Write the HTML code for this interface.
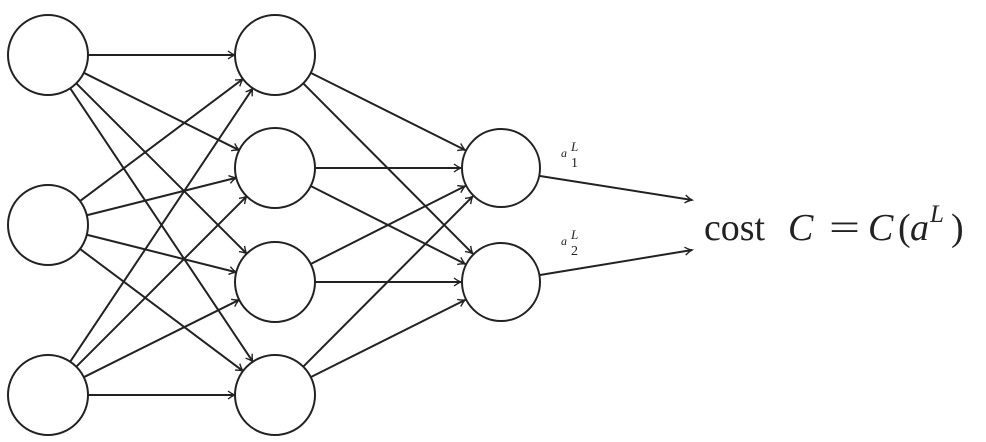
<!DOCTYPE html>
<html><head><meta charset="utf-8"><style>html,body{margin:0;padding:0;background:#fff;width:986px;height:442px;overflow:hidden}</style></head>
<body>
<svg width="986" height="442" viewBox="0 0 986 442" xmlns="http://www.w3.org/2000/svg" id="s">
<defs><marker id="a" markerWidth="10" markerHeight="10" refX="8" refY="5" orient="auto" markerUnits="userSpaceOnUse"><path d="M1,1 Q5,4 8,5 Q5,6 1,9" fill="none" stroke="#222" stroke-width="1.4"/></marker></defs>
<g id="g" stroke="#222" stroke-width="2" fill="none"></g>
<line x1="540" y1="176" x2="692" y2="200" stroke="#222" stroke-width="2" marker-end="url(#a)"/>
<line x1="540" y1="275" x2="692" y2="250" stroke="#222" stroke-width="2" marker-end="url(#a)"/>
<g font-family="Liberation Serif, serif" fill="#222">
<text x="561" y="157" font-size="12" font-style="italic">a</text><text x="571" y="151" font-size="13" font-style="italic">L</text><text x="571" y="167" font-size="14">1</text>
<text x="561" y="245" font-size="12" font-style="italic">a</text><text x="571" y="239" font-size="13" font-style="italic">L</text><text x="571" y="255" font-size="14">2</text>
<text x="704" y="240" font-size="38" textLength="61" lengthAdjust="spacingAndGlyphs">cost</text>
<text x="788" y="240" font-size="38" font-style="italic">C</text>
<text x="829" y="240" font-size="38" textLength="31" lengthAdjust="spacingAndGlyphs">=</text>
<text x="868" y="240" font-size="38" font-style="italic">C</text>
<text x="898" y="240" font-size="38">(</text>
<text x="910" y="240" font-size="38" font-style="italic">a</text>
<text x="930" y="222" font-size="25" font-style="italic">L</text>
<text x="951" y="240" font-size="38">)</text>
</g>
</svg>
<script>
var L=[[[48,55],[48,225],[48,395]],[[275,55],[275,168],[275,282],[275,395]],[[501,168],[501,282]]];
var g=document.getElementById('g'),ns='http://www.w3.org/2000/svg',r=40;
for(var l=0;l<2;l++)for(var i=0;i<L[l].length;i++)for(var j=0;j<L[l+1].length;j++){
var a=L[l][i],b=L[l+1][j],dx=b[0]-a[0],dy=b[1]-a[1],d=Math.hypot(dx,dy),ux=dx/d,uy=dy/d;
var e=document.createElementNS(ns,'line');
e.setAttribute('x1',a[0]+ux*r);e.setAttribute('y1',a[1]+uy*r);
e.setAttribute('x2',b[0]-ux*r);e.setAttribute('y2',b[1]-uy*r);
e.setAttribute('marker-end','url(#a)');g.appendChild(e);}
L.forEach(function(ly){ly.forEach(function(p){var c=document.createElementNS(ns,'circle');
c.setAttribute('cx',p[0]);c.setAttribute('cy',p[1]);c.setAttribute('r',p[0]>400?39:40);c.setAttribute('fill','#fff');g.appendChild(c);});});
</script>
</body></html>
